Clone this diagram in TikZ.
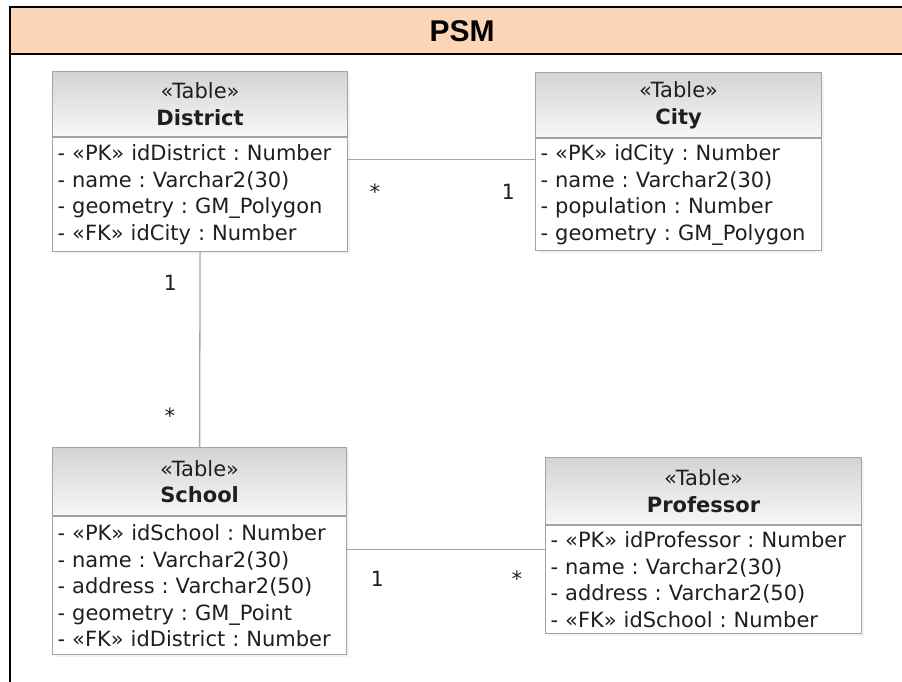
\documentclass[tikz,border=0pt]{standalone}
\usepackage{fontspec}
\usetikzlibrary{shadows}
\newfontfamily\boxfont{DejaVu Sans}
\newfontfamily\multfont{DejaVu Sans Mono}
\newfontfamily\titlefont{Liberation Sans}
\definecolor{bandfill}{HTML}{FBD5B5}
\definecolor{tableline}{HTML}{A3A3A3}
\definecolor{connline}{HTML}{A8A8A8}
\frenchspacing
\begin{document}
\begin{tikzpicture}[x=1pt,y=-1pt,
  boxtext/.style={font=\boxfont\fontsize{21}{26.5}\selectfont, text=black!88},
  tablehead/.style={boxtext, draw=tableline, line width=1.2pt,
    top color=black!17, bottom color=black!3, anchor=north west,
    align=center, inner sep=0pt,
    drop shadow={shadow xshift=2pt, shadow yshift=-2pt, fill=black!9}},
  tablebody/.style={boxtext, draw=tableline, line width=1.2pt, fill=white,
    anchor=north west, align=left, inner xsep=5pt, inner ysep=0pt,
    drop shadow={shadow xshift=2pt, shadow yshift=-2pt, fill=black!9}},
  conn/.style={draw=connline, line width=1.3pt},
  mult/.style={font=\multfont\fontsize{21}{21}\selectfont, inner sep=0pt, anchor=base, text=black!88},
  frameline/.style={line width=2.5pt, black}]

\useasboundingbox (0,0) rectangle (902,682);

% diagram frame with its title band
\fill[bandfill] (10,7) rectangle (905,54);
\draw[frameline] (905,7) -- (10,7) -- (10,685);
\draw[frameline] (10,54) -- (905,54);
\node[font=\titlefont\bfseries\fontsize{30}{30}\selectfont, inner sep=0pt] (title) at (462,31) {PSM};

% District
\node[tablehead, minimum width=295pt, minimum height=65pt] (district-h) at (52,71)
  {«Table»\\\textbf{District}};
\node[tablebody, text width=285pt, minimum width=295pt, minimum height=114pt] (district)
  at (district-h.south west)
  {- «PK» idDistrict : Number\\- name : Varchar2(30)\\- geometry : GM\_Polygon\\- «FK» idCity : Number};

% City
\node[tablehead, minimum width=286pt, minimum height=65pt] (city-h) at (535,72)
  {«Table»\\\textbf{City}};
\node[tablebody, text width=276pt, minimum width=286pt, minimum height=112pt] (city)
  at (city-h.south west)
  {- «PK» idCity : Number\\- name : Varchar2(30)\\- population : Number\\- geometry : GM\_Polygon};

% School
\node[tablehead, minimum width=294pt, minimum height=68pt] (school-h) at (52,447)
  {«Table»\\\textbf{School}};
\node[tablebody, text width=284pt, minimum width=294pt, minimum height=138pt] (school)
  at (school-h.south west)
  {- «PK» idSchool : Number\\- name : Varchar2(30)\\- address : Varchar2(50)\\- geometry : GM\_Point\\- «FK» idDistrict : Number};

% Professor
\node[tablehead, minimum width=316pt, minimum height=67pt] (prof-h) at (545,457)
  {«Table»\\\textbf{Professor}};
\node[tablebody, text width=306pt, minimum width=316pt, minimum height=108pt] (prof)
  at (prof-h.south west)
  {- «PK» idProfessor : Number\\- name : Varchar2(30)\\- address : Varchar2(50)\\- «FK» idSchool : Number};

% associations
\path (district.north east) ++(0,22) coordinate (dc-a);
\draw[conn] (dc-a) -- (dc-a -| city.west);
\draw[conn] (district.south) -- (school-h.north);
\path (school.north east) ++(0,33) coordinate (sp-a);
\draw[conn] (sp-a) -- (sp-a -| prof.west);

% multiplicities
\node[mult] (dc-many) at (375,199) {*};
\node[mult] (dc-one) at (508,199) {1};
\node[mult] (ds-one) at (170,290) {1};
\node[mult] (ds-many) at (170,423) {*};
\node[mult] (sp-one) at (377,586) {1};
\node[mult] (sp-many) at (517,586) {*};
\end{tikzpicture}
\end{document}
